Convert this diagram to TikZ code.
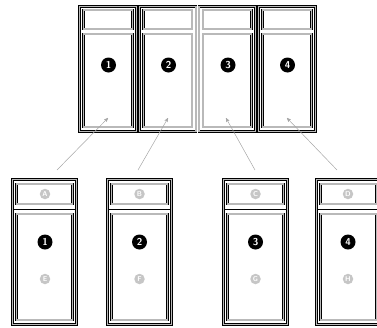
\documentclass[tikz,border=0pt]{standalone}
\usepackage{tikz}
\usetikzlibrary{arrows}

\tikzset{
	frame/.style={draw=black, line width=0.7pt, double=gray!55, double distance=1.2pt, rectangle, inner sep=0pt},
	divider/.style={draw=black, line width=0.9pt},
	num/.style={circle, fill=black, text=white, inner sep=0pt, minimum size=15pt, font=\sffamily\bfseries\normalsize},
	letter/.style={circle, fill=gray!45, text=white, inner sep=0pt, minimum size=10.5pt, font=\sffamily\bfseries\scriptsize},
	link/.style={->, draw=gray!70, line width=0.5pt}
}

\begin{document}
\begin{tikzpicture}[>=stealth', x=1pt, y=-1pt]
	\useasboundingbox (0,0) rectangle (377,327);

	% Top row {t1, t2, t3, t4}
	\node [frame, minimum width=56.75pt, minimum height=125pt] (t1) at (107.9,69) {};
	\node [frame, minimum width=56.75pt, minimum height=125pt] (t2) at (167.6,69) {};
	\node [frame, minimum width=56.75pt, minimum height=125pt] (t3) at (227.4,69) {};
	\node [frame, minimum width=56.75pt, minimum height=125pt] (t4) at (287.1,69) {};
	\node [frame, minimum width=48.75pt, minimum height=19pt] (t1top) at (107.9,19.5) {};
	\node [frame, minimum width=48.75pt, minimum height=19pt] (t2top) at (167.6,19.5) {};
	\node [frame, minimum width=48.75pt, minimum height=19pt] (t3top) at (227.4,19.5) {};
	\node [frame, minimum width=48.75pt, minimum height=19pt] (t4top) at (287.1,19.5) {};
	\node [frame, minimum width=48.75pt, minimum height=93pt] (t1main) at (107.9,80.5) {};
	\node [frame, minimum width=48.75pt, minimum height=93pt] (t2main) at (167.6,80.5) {};
	\node [frame, minimum width=48.75pt, minimum height=93pt] (t3main) at (227.4,80.5) {};
	\node [frame, minimum width=48.75pt, minimum height=93pt] (t4main) at (287.1,80.5) {};
	\node [num] (n1) at (108.5,65) {1};
	\node [num] (n2) at (168.5,65) {2};
	\node [num] (n3) at (228,65) {3};
	\node [num] (n4) at (287.5,65) {4};

	% Bottom row {b1, b2, b3, b4}
	\node [frame, minimum width=64pt, minimum height=145pt] (b1) at (44.5,252) {};
	\node [frame, minimum width=64pt, minimum height=145pt] (b2) at (139.5,252) {};
	\node [frame, minimum width=64pt, minimum height=145pt] (b3) at (255.5,252) {};
	\node [frame, minimum width=64pt, minimum height=145pt] (b4) at (348.5,252) {};
	\draw [divider] ([xshift=1.5pt]b1.west |- 0,209) -- ([xshift=-1.5pt]b1.east |- 0,209);
	\draw [divider] ([xshift=1.5pt]b2.west |- 0,209) -- ([xshift=-1.5pt]b2.east |- 0,209);
	\draw [divider] ([xshift=1.5pt]b3.west |- 0,209) -- ([xshift=-1.5pt]b3.east |- 0,209);
	\draw [divider] ([xshift=1.5pt]b4.west |- 0,209) -- ([xshift=-1.5pt]b4.east |- 0,209);
	\node [frame, minimum width=56pt, minimum height=20pt] (b1top) at (44.5,194) {};
	\node [frame, minimum width=56pt, minimum height=20pt] (b2top) at (139.5,194) {};
	\node [frame, minimum width=56pt, minimum height=20pt] (b3top) at (255.5,194) {};
	\node [frame, minimum width=56pt, minimum height=20pt] (b4top) at (348.5,194) {};
	\node [frame, minimum width=56pt, minimum height=106pt] (b1main) at (44.5,267) {};
	\node [frame, minimum width=56pt, minimum height=106pt] (b2main) at (139.5,267) {};
	\node [frame, minimum width=56pt, minimum height=106pt] (b3main) at (255.5,267) {};
	\node [frame, minimum width=56pt, minimum height=106pt] (b4main) at (348.5,267) {};
	\node [letter] (la) at (45,194) {A};
	\node [letter] (lb) at (139.5,194) {B};
	\node [letter] (lc) at (255.5,194) {C};
	\node [letter] (ld) at (348,194) {D};
	\node [num] (m1) at (45,242) {1};
	\node [num] (m2) at (139.5,242) {2};
	\node [num] (m3) at (255.5,242) {3};
	\node [num] (m4) at (348,242) {4};
	\node [letter] (le) at (45,279) {E};
	\node [letter] (lf) at (139.5,279) {F};
	\node [letter] (lg) at (255.5,279) {G};
	\node [letter] (lh) at (348,279) {H};

	% Arrow ends
	\coordinate (s1) at (57,170);
	\coordinate (s2) at (138,170);
	\coordinate (s3) at (255,170);
	\coordinate (s4) at (337,170);
	\coordinate (e1) at (108,118);
	\coordinate (e2) at (168,118);
	\coordinate (e3) at (226,118);
	\coordinate (e4) at (287,118);

	% Paths
	\draw [link] (s1) -- (e1);
	\draw [link] (s2) -- (e2);
	\draw [link] (s3) -- (e3);
	\draw [link] (s4) -- (e4);

\end{tikzpicture}
\end{document}
